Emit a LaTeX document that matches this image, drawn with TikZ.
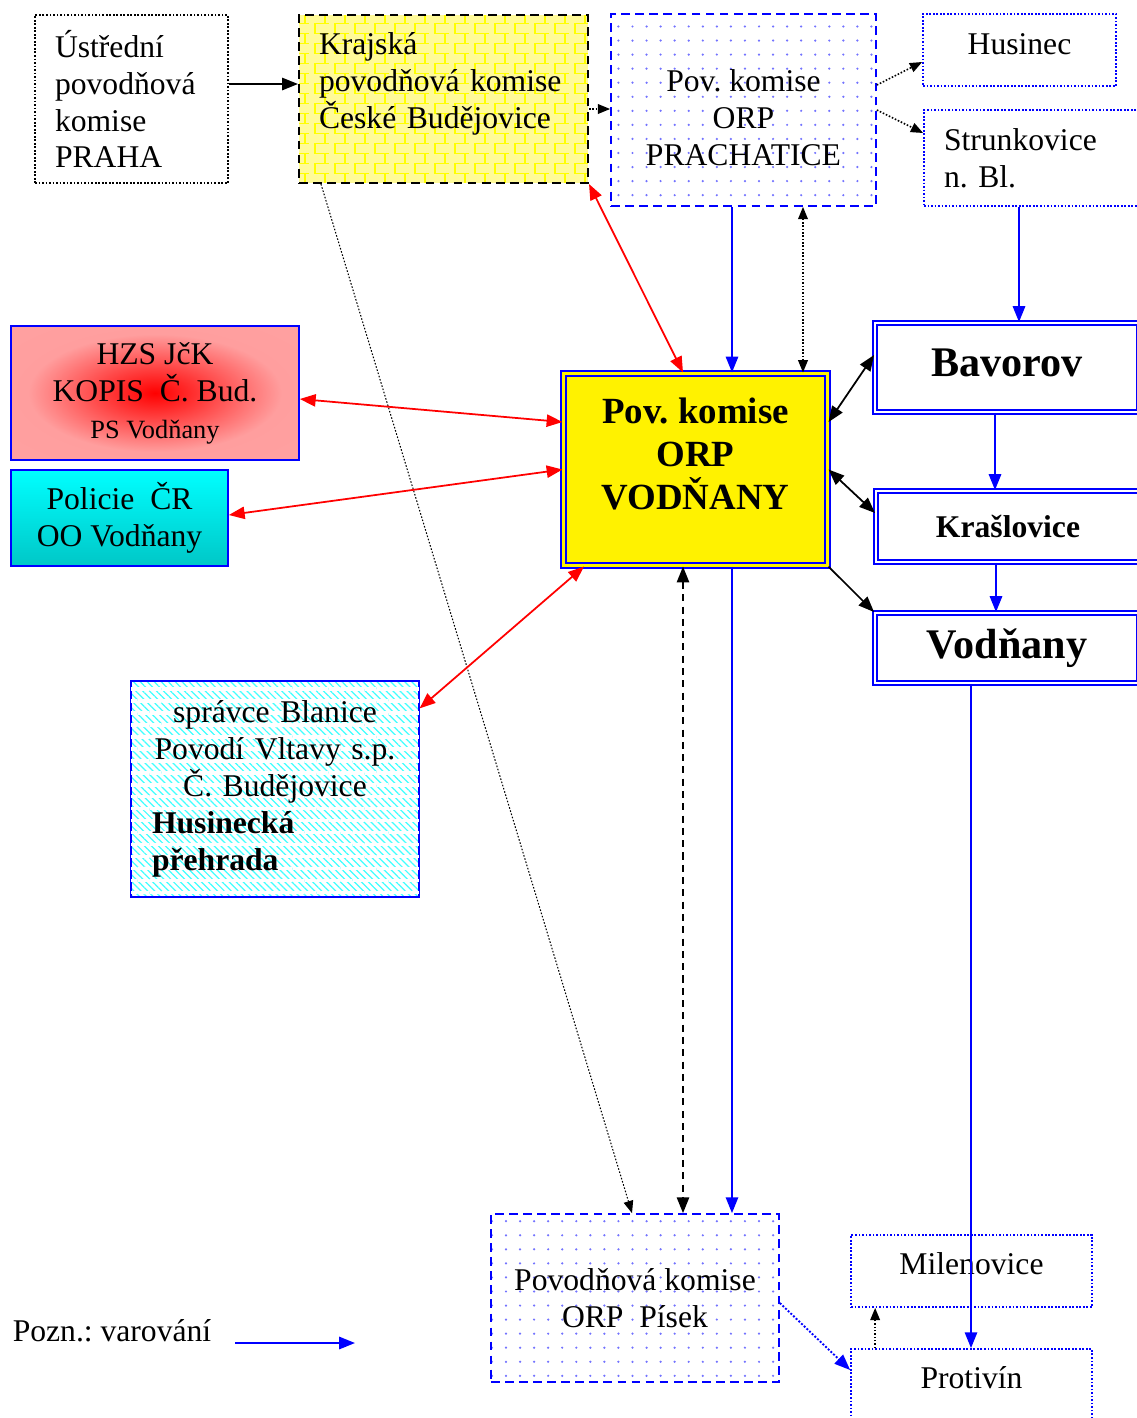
\documentclass[tikz,border=0pt]{standalone}
\usepackage{fontspec}
\setmainfont{Liberation Serif}
\usetikzlibrary{arrows.meta, patterns, patterns.meta}
\pgfdeclareradialshading{hzsshade}{\pgfpoint{0bp}{0bp}}{color(0bp)=(red); color(9bp)=(red!75); color(22bp)=(red!38); color(50bp)=(red!36)}
\frenchspacing

\begin{document}
\begin{tikzpicture}[x=0.02cm, y=-0.02cm, >={Triangle[length=9pt,width=7pt]},
        bx/.style={rectangle, draw, line width=1pt, inner sep=0pt, align=center, font=\fontsize{18}{21}\selectfont},
        dotbox/.style={bx, draw=blue, densely dotted},
        dashbox/.style={bx, draw=blue, dash pattern=on 5pt off 3pt, pattern={Dots[distance=8pt,radius=0.7pt]}, pattern color=blue!55},
        solbox/.style={bx, draw=blue},
        dbl/.style={bx, draw=blue, line width=1.1pt, double=white, double distance=1.3pt, minimum width=5.28cm, font=\bfseries\fontsize{24}{28}\selectfont},
        lb/.style={align=left, inner xsep=0.4cm}]
            \path[use as bounding box] (0,0) rectangle (1137,1418);
            \clip (0,0) rectangle (1137,1418);

            \draw (131.5,99)   node[bx, densely dotted, lb, text width=3.06cm, minimum height=3.36cm](ustr){Ústřední\\povodňová\\komise\\PRAHA};
            \draw (443.5,99)   node[bx, dash pattern=on 5pt off 3pt, line width=1.2pt, lb, text width=4.98cm, minimum height=3.36cm, preaction={fill=yellow!40}, pattern=bricks, pattern color=yellow](kraj){Krajská\\povodňová komise\\České Budějovice\\ \mbox{}};
            \draw (743.5,110)  node[dashbox, minimum width=5.3cm, minimum height=3.84cm](prach){\mbox{}\\Pov. komise\\ORP\\PRACHATICE};
            \draw (1019.5,50)  node[dotbox, minimum width=3.86cm, minimum height=1.44cm](husin){Husinec\\[-0.5cm]\mbox{}};
            \draw (1036.5,158) node[dotbox, lb, text width=3.7cm, minimum height=1.92cm](strunk){Strunkovice\\n. Bl.};
            \draw (155,393)    node[solbox, minimum width=5.76cm, minimum height=2.68cm, shading=hzsshade](hzs){HZS JčK\\KOPIS~ Č. Bud.\\{\fontsize{15}{18}\selectfont PS Vodňany}};
            \draw (119.5,518)  node[solbox, minimum width=4.34cm, minimum height=1.92cm, top color=cyan, bottom color=cyan!78!black](polic){Policie~ ČR\\OO Vodňany};
            \draw (695.5,469.5) node[bx, draw=blue, line width=1.2pt, double=yellow, double distance=1.6pt, fill=yellow, minimum width=5.28cm, minimum height=3.84cm, font=\bfseries\fontsize{21}{24.5}\selectfont](orp){Pov. komise\\ORP\\VODŇANY\\[-6pt]\mbox{}};
            \draw (1007,367.5) node[dbl, minimum height=1.78cm](bavor){Bavorov\\[-0.78cm]\mbox{}};
            \draw (1008,526.5) node[dbl, minimum height=1.42cm, font=\bfseries\fontsize{18}{21}\selectfont](krasl){Krašlovice};
            \draw (1007,648)   node[dbl, minimum height=1.4cm](vodn){Vodňany};
            \draw (275,789)    node[solbox, lb, inner xsep=0.42cm, text width=4.92cm, minimum height=4.32cm, pattern={Lines[angle=-45,distance=2.8pt,line width=0.7pt]}, pattern color=cyan!75, postaction={pattern={Lines[distance=6.8pt,line width=2pt]}, pattern color=white}](sprav){{\centering správce Blanice\\Povodí Vltavy s.p.\\Č. Budějovice\par}\textbf{Husinecká\\přehrada}};
            \draw (635,1298)   node[dashbox, minimum width=5.76cm, minimum height=3.36cm](pisek){Povodňová komise\\ORP~ Písek};
            \draw (971.5,1271) node[dotbox, minimum width=4.82cm, minimum height=1.44cm](milen){Milenovice\\[-0.45cm]\mbox{}};
            \draw (971.5,1384.5) node[dotbox, minimum width=4.82cm, minimum height=1.42cm](protiv){Protivín\\[-0.45cm]\mbox{}};
            \draw (112,1331)   node[font=\fontsize{18}{21}\selectfont](pozn){Pozn.: varování};
            \coordinate (w1) at (235,1343);
            \coordinate (w2) at (355,1343);

            \begin{scope}[black, line width=1pt]
                \path[->] ([yshift=0.3cm]ustr.east) edge ([yshift=0.3cm]ustr.east -| kraj.west);
                \path[<->] ([yshift=0.95cm]orp.east) edge ([yshift=0.25cm]bavor.west);
                \path[<->] (orp.east) edge ([yshift=0.27cm]krasl.west);
                \path[->] (orp.south east) edge (vodn.north west);
                \path[<->, dash pattern=on 4pt off 3pt] ([xshift=-0.25cm]orp.south) edge ([xshift=-0.25cm]orp.south |- pisek.north);
            \end{scope}

            \begin{scope}[black, densely dotted, line width=0.9pt, >={Triangle[length=7pt,width=5.5pt]}]
                \path[->] ([yshift=-0.2cm]kraj.east) edge ([yshift=-0.2cm]kraj.east -| prach.west);
                \path[->] ([yshift=0.5cm]prach.east) edge ([yshift=-0.24cm]husin.west);
                \path[->] (prach.east) edge ([yshift=0.5cm]strunk.west);
                \path[<->] ([xshift=1.19cm]prach.south) edge ([xshift=1.19cm]prach.south |- orp.north);
                \path[->] ([xshift=0.5cm]protiv.north west) edge ([xshift=0.5cm]milen.south west);
                \path[->, line width=0.6pt] ([xshift=0.46cm]kraj.south west) edge ([xshift=-0.06cm]pisek.north);
            \end{scope}

            \begin{scope}[red, line width=1pt]
                \path[<->] (kraj.south east) edge ([xshift=-0.25cm]orp.north);
                \path[<->] ([yshift=-0.12cm]hzs.east) edge ([yshift=0.95cm]orp.west);
                \path[<->] ([yshift=0.06cm]polic.east) edge (orp.west);
                \path[<->] ([yshift=-0.56cm]sprav.north east) edge ([xshift=0.43cm]orp.south west);
            \end{scope}

            \begin{scope}[blue, line width=1.1pt]
                \path[->] ([xshift=-0.23cm]prach.south) edge ([xshift=-0.23cm]prach.south |- orp.north);
                \path[->] ([xshift=-0.35cm]strunk.south) edge ([xshift=-0.35cm]strunk.south |- bavor.north);
                \path[->] ([xshift=-0.24cm]bavor.south) edge ([xshift=-0.24cm]bavor.south |- krasl.north);
                \path[->] ([xshift=-0.24cm]krasl.south) edge ([xshift=-0.24cm]krasl.south |- vodn.north);
                \path[->] ([xshift=-0.72cm]vodn.south) edge ([xshift=-0.72cm]vodn.south |- protiv.north);
                \path[->] ([xshift=0.73cm]orp.south) edge ([xshift=0.73cm]orp.south |- pisek.north);
                \path[->, densely dotted] ([yshift=-0.1cm]pisek.east) edge ([yshift=0.29cm]protiv.west);
                \path[->] (w1) edge (w2);
            \end{scope}
        \end{tikzpicture}
\end{document}
